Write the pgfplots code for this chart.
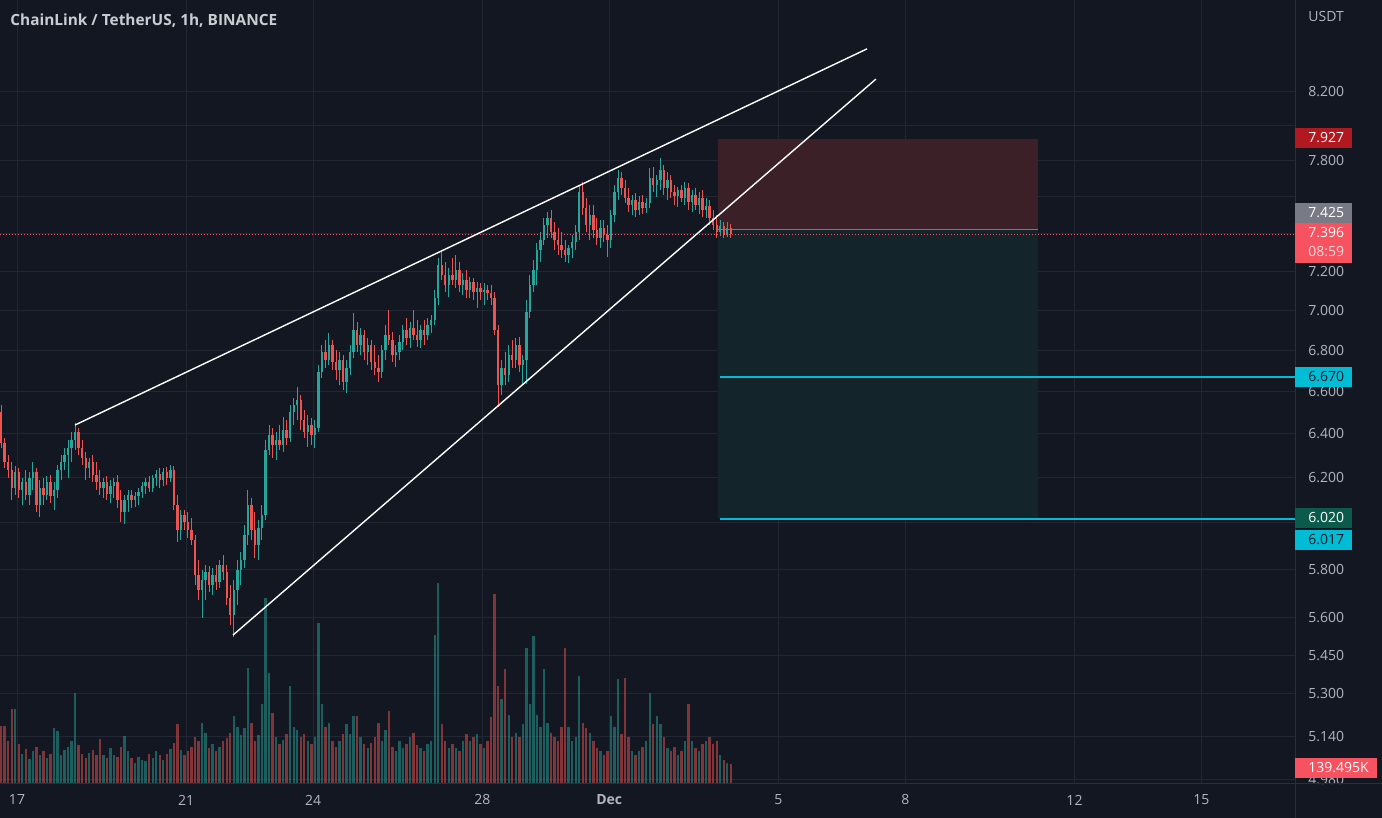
\documentclass[border=0pt]{standalone}
\usepackage{pgfplots}
\usepackage{pgfplotstable}
\pgfplotsset{compat=1.18}
\usepackage{fontspec}
\setmainfont{Open Sans}

\definecolor{bgc}{HTML}{131722}
\definecolor{gridc}{HTML}{232733}
\definecolor{sepc}{HTML}{2A2E39}
\definecolor{upc}{HTML}{26A69A}
\definecolor{dnc}{HTML}{EF5350}
\definecolor{txtc}{HTML}{B2B5BE}
\definecolor{titlec}{HTML}{C9CCD3}
\definecolor{cyanc}{HTML}{00BCD4}
\definecolor{lblred}{HTML}{F7525F}
\definecolor{stopred}{HTML}{B2181F}
\definecolor{tgtgreen}{HTML}{0A5B4B}
\definecolor{stopzone}{HTML}{3B2028}
\definecolor{tgtzone}{HTML}{13252B}
\definecolor{entryc}{HTML}{787B86}

% LINK/USDT, 2h candles: open high low close volume(K)
\pgfplotstableread{
o h l c v
6.503 6.536 6.335 6.358 406
6.358 6.381 6.244 6.271 406
6.271 6.303 6.198 6.235 300
6.235 6.271 6.101 6.154 525
6.154 6.253 6.123 6.226 525
6.226 6.244 6.110 6.145 280
6.145 6.198 6.079 6.181 210
6.181 6.235 6.101 6.123 245
6.123 6.226 6.079 6.198 175
6.198 6.271 6.145 6.226 230
6.226 6.244 6.048 6.079 260
6.079 6.189 6.026 6.154 200
6.154 6.198 6.079 6.123 230
6.123 6.208 6.101 6.181 180
6.181 6.212 6.088 6.119 210
6.119 6.181 6.057 6.145 392
6.145 6.258 6.110 6.235 370
6.235 6.303 6.189 6.271 200
6.271 6.335 6.235 6.303 240
6.303 6.372 6.198 6.335 260
6.335 6.409 6.271 6.372 300
6.372 6.451 6.326 6.409 637
6.409 6.427 6.303 6.335 270
6.335 6.372 6.258 6.290 210
6.290 6.317 6.189 6.244 180
6.244 6.290 6.198 6.271 220
6.271 6.303 6.181 6.212 240
6.212 6.271 6.145 6.181 200
6.181 6.235 6.123 6.154 315
6.154 6.198 6.110 6.181 200
6.181 6.208 6.101 6.128 180
6.128 6.189 6.088 6.163 250
6.163 6.198 6.110 6.181 200
6.181 6.212 6.066 6.101 190
6.101 6.145 6.004 6.048 260
6.048 6.123 5.995 6.101 336
6.101 6.145 6.048 6.123 230
6.123 6.145 6.066 6.101 180
6.101 6.136 6.070 6.119 150
6.119 6.154 6.079 6.136 190
6.136 6.181 6.110 6.163 170
6.163 6.198 6.128 6.181 160
6.181 6.208 6.136 6.154 210
6.154 6.212 6.136 6.198 180
6.198 6.235 6.163 6.217 230
6.217 6.244 6.154 6.189 200
6.189 6.244 6.163 6.226 170
6.226 6.249 6.167 6.198 210
6.198 6.258 6.181 6.235 245
6.235 6.253 6.057 6.079 290
6.079 6.123 5.918 5.970 420
5.970 6.057 5.927 6.035 240
6.035 6.057 5.970 6.004 200
6.004 6.048 5.935 5.970 230
5.970 6.022 5.905 5.927 260
5.927 5.948 5.736 5.778 330
5.778 5.841 5.674 5.716 300
5.716 5.798 5.600 5.757 427
5.757 5.820 5.674 5.790 360
5.790 5.815 5.707 5.736 250
5.736 5.807 5.695 5.778 280
5.778 5.820 5.716 5.749 230
5.749 5.841 5.724 5.820 260
5.820 5.862 5.757 5.790 300
5.790 5.820 5.653 5.682 320
5.682 5.736 5.572 5.612 360
5.612 5.757 5.525 5.716 476
5.716 5.841 5.653 5.798 400
5.798 5.875 5.736 5.841 340
5.841 5.991 5.807 5.948 390
5.948 6.145 5.905 6.079 812
6.079 6.110 5.927 5.970 430
5.970 6.048 5.850 5.905 300
5.905 6.013 5.841 5.978 340
5.978 6.079 5.927 6.035 560
6.035 6.372 6.013 6.326 1302
6.326 6.442 6.303 6.395 777
6.395 6.427 6.290 6.349 500
6.349 6.409 6.281 6.372 330
6.372 6.442 6.326 6.349 280
6.349 6.479 6.317 6.418 310
6.418 6.465 6.349 6.381 350
6.381 6.536 6.363 6.503 686
6.503 6.569 6.442 6.536 400
6.536 6.621 6.465 6.559 380
6.559 6.583 6.418 6.465 330
6.465 6.512 6.381 6.409 350
6.409 6.489 6.340 6.442 300
6.442 6.475 6.349 6.395 280
6.395 6.465 6.335 6.427 330
6.427 6.728 6.409 6.694 1127
6.694 6.826 6.665 6.791 560
6.791 6.851 6.713 6.752 400
6.752 6.886 6.728 6.826 427
6.826 6.851 6.704 6.743 300
6.743 6.801 6.655 6.704 260
6.704 6.791 6.631 6.752 300
6.752 6.777 6.607 6.645 350
6.645 6.752 6.592 6.713 420
6.713 6.826 6.679 6.791 350
6.791 6.986 6.762 6.901 476
6.901 6.941 6.791 6.826 476
6.826 6.911 6.777 6.876 330
6.876 6.901 6.752 6.791 280
6.791 6.861 6.728 6.826 250
6.826 6.851 6.704 6.743 290
6.743 6.826 6.679 6.713 330
6.713 6.777 6.645 6.694 427
6.694 6.826 6.665 6.801 300
6.801 6.926 6.752 6.876 380
6.876 7.001 6.826 6.851 511
6.851 6.891 6.743 6.777 260
6.777 6.826 6.718 6.791 230
6.791 6.876 6.752 6.841 300
6.841 6.926 6.801 6.901 250
6.901 6.961 6.826 6.861 280
6.861 6.941 6.811 6.911 330
6.911 7.001 6.851 6.876 360
6.876 6.951 6.816 6.851 270
6.851 6.926 6.811 6.901 250
6.901 6.951 6.826 6.876 230
6.876 6.961 6.851 6.926 280
6.926 6.976 6.886 6.951 300
6.951 7.104 6.926 7.063 1040
7.063 7.271 7.027 7.234 1407
7.234 7.303 7.156 7.182 420
7.182 7.250 7.094 7.130 300
7.130 7.218 7.068 7.182 250
7.182 7.271 7.130 7.156 280
7.156 7.287 7.115 7.207 250
7.207 7.250 7.094 7.130 230
7.130 7.192 7.079 7.156 300
7.156 7.207 7.063 7.104 350
7.104 7.171 7.063 7.146 300
7.146 7.166 7.053 7.094 330
7.094 7.146 7.011 7.115 350
7.115 7.140 7.053 7.094 280
7.094 7.140 7.027 7.104 250
7.104 7.130 7.053 7.089 300
7.089 7.130 7.027 7.063 470
7.063 7.094 6.876 6.901 1330
6.901 6.926 6.526 6.631 686
6.631 6.752 6.583 6.713 595
6.713 6.791 6.631 6.679 805
6.679 6.826 6.645 6.777 480
6.777 6.851 6.713 6.752 330
6.752 6.861 6.713 6.826 360
6.826 6.866 6.694 6.728 330
6.728 6.777 6.636 6.752 420
6.752 7.053 6.636 6.991 952
6.991 7.182 6.961 7.130 560
7.130 7.260 7.094 7.207 1036
7.207 7.350 7.130 7.313 480
7.313 7.409 7.250 7.366 400
7.366 7.486 7.340 7.447 805
7.447 7.518 7.377 7.486 430
7.486 7.529 7.377 7.409 360
7.409 7.464 7.313 7.366 330
7.366 7.431 7.287 7.340 300
7.340 7.409 7.271 7.313 400
7.313 7.366 7.250 7.287 952
7.287 7.340 7.244 7.324 400
7.324 7.393 7.271 7.356 300
7.356 7.447 7.313 7.409 330
7.409 7.667 7.366 7.628 756
7.628 7.683 7.502 7.540 430
7.540 7.595 7.409 7.447 392
7.447 7.557 7.366 7.502 360
7.502 7.557 7.377 7.420 300
7.420 7.486 7.340 7.377 250
7.377 7.475 7.324 7.431 230
7.431 7.475 7.356 7.393 200
7.393 7.447 7.276 7.366 230
7.366 7.529 7.324 7.502 476
7.502 7.667 7.464 7.628 400
7.628 7.750 7.584 7.706 735
7.706 7.739 7.611 7.650 350
7.650 7.694 7.568 7.595 742
7.595 7.650 7.518 7.557 330
7.557 7.611 7.502 7.584 230
7.584 7.622 7.491 7.529 200
7.529 7.606 7.502 7.573 230
7.573 7.611 7.508 7.540 260
7.540 7.595 7.513 7.568 300
7.568 7.761 7.540 7.706 637
7.706 7.767 7.628 7.667 420
7.667 7.722 7.600 7.694 476
7.694 7.817 7.639 7.750 420
7.750 7.778 7.611 7.650 330
7.650 7.739 7.584 7.694 250
7.694 7.722 7.595 7.628 230
7.628 7.667 7.557 7.606 260
7.606 7.656 7.546 7.639 200
7.639 7.667 7.573 7.595 230
7.595 7.683 7.557 7.650 300
7.650 7.678 7.529 7.573 560
7.573 7.639 7.518 7.611 300
7.611 7.650 7.529 7.557 250
7.557 7.628 7.508 7.595 230
7.595 7.639 7.491 7.529 280
7.529 7.595 7.486 7.551 300
7.551 7.584 7.447 7.486 330
7.486 7.529 7.420 7.447 280
7.447 7.502 7.377 7.409 300
7.409 7.475 7.387 7.442 200
7.442 7.464 7.377 7.393 170
7.393 7.464 7.382 7.431 150
7.431 7.453 7.377 7.396 139.495
}\candles

\begin{document}
\begin{tikzpicture}
\fill[bgc] (0,-17pt) rectangle (691pt,392pt);

% grid and scales
\begin{axis}[
  scale only axis, width=647.5pt, height=392pt,
  at={(0,0)}, anchor=south west,
  xmin=-0.4019, xmax=30.213,
  ymode=log, ymin=4.9651, ymax=8.7655,
  axis line style={draw=none}, tick style={draw=none},
  xmajorgrids, ymajorgrids, major grid style={gridc, line width=0.5pt},
  xtick={0,4,7,11,14,18,21,25,28},
  xticklabels={17,21,24,28,\textbf{Dec},5,8,12,15},
  ytick={4.98,5.14,5.3,5.45,5.6,5.8,6.0,6.2,6.4,6.6,6.8,7.0,7.2,7.4,7.6,7.8,8.0,8.2},
  yticklabels={4.980,5.140,5.300,5.450,5.600,5.800,,6.200,6.400,6.600,6.800,7.000,7.200,,,7.800,,8.200},
  yticklabel pos=right,
  /pgf/number format/assume math mode=true,
  tick label style={font=\fontsize{7}{8}\selectfont, text=txtc},
  xticklabel style={anchor=center, inner sep=0pt, yshift=-8pt},
  yticklabel style={anchor=west, inner sep=0pt, xshift=6.5pt},
]
\end{axis}

% volume
\begin{axis}[
  scale only axis, width=647.5pt, height=392pt,
  at={(0,0)}, anchor=south west,
  xmin=-0.4019, xmax=30.213, ymin=0, ymax=5488, axis lines=none]
\addplot[ycomb, mark=none, line width=1.2pt, upc, opacity=0.5,
  restrict expr to domain={\thisrow{c}-\thisrow{o}}{0:10}]
  table[x expr=-0.375+\coordindex/12, y=v] {\candles};
\addplot[ycomb, mark=none, line width=1.2pt, dnc, opacity=0.5,
  restrict expr to domain={\thisrow{c}-\thisrow{o}}{-10:-0.0001}]
  table[x expr=-0.375+\coordindex/12, y=v] {\candles};
\end{axis}

% candles, position and drawings
\begin{axis}[
  scale only axis, width=647.5pt, height=392pt,
  at={(0,0)}, anchor=south west,
  xmin=-0.4019, xmax=30.213,
  ymode=log, ymin=4.9651, ymax=8.7655, axis lines=none,
  candle/.style={only marks, mark=*, mark size=0pt,
    mark options={draw opacity=0, fill opacity=0}},
]
\addplot[draw=none, fill=stopzone] coordinates
  {(16.572,7.425) (24.137,7.425) (24.137,7.927) (16.572,7.927)} -- cycle;
\addplot[draw=none, fill=tgtzone] coordinates
  {(16.572,6.017) (24.137,6.017) (24.137,7.425) (16.572,7.425)} -- cycle;
\addplot[entryc, line width=0.5pt] coordinates {(16.572,7.425) (24.137,7.425)};

% wicks
\addplot[candle, upc,
  restrict expr to domain={\thisrow{c}-\thisrow{o}}{0:10},
  error bars/.cd, y dir=plus, y explicit, error mark=none,
  error bar style={upc, line width=0.5pt}]
  table[x expr=-0.375+\coordindex/12, y=l, y error expr=\thisrow{h}-\thisrow{l}] {\candles};
\addplot[candle, dnc,
  restrict expr to domain={\thisrow{c}-\thisrow{o}}{-10:-0.0001},
  error bars/.cd, y dir=plus, y explicit, error mark=none,
  error bar style={dnc, line width=0.5pt}]
  table[x expr=-0.375+\coordindex/12, y=l, y error expr=\thisrow{h}-\thisrow{l}] {\candles};
% bodies
\addplot[candle, upc,
  restrict expr to domain={\thisrow{c}-\thisrow{o}}{0:10},
  error bars/.cd, y dir=minus, y explicit, error mark=none,
  error bar style={upc, line width=1.2pt}]
  table[x expr=-0.375+\coordindex/12, y=c, y error expr=\thisrow{c}-\thisrow{o}] {\candles};
\addplot[candle, dnc,
  restrict expr to domain={\thisrow{c}-\thisrow{o}}{-10:-0.0001},
  error bars/.cd, y dir=minus, y explicit, error mark=none,
  error bar style={dnc, line width=1.2pt}]
  table[x expr=-0.375+\coordindex/12, y=o, y error expr=\thisrow{o}-\thisrow{c}] {\candles};

% last price
\addplot[lblred, line width=0.5pt, dash pattern=on 0.5pt off 1pt]
  coordinates {(-0.4019,7.396) (30.213,7.396)};
% horizontal levels
\addplot[cyanc, line width=1pt] coordinates {(16.62,6.670) (30.213,6.670)};
\addplot[cyanc, line width=1pt] coordinates {(16.62,6.017) (30.213,6.017)};
% rising wedge
\addplot[white, line width=0.7pt] coordinates {(1.371,6.441) (20.095,8.460)};
\addplot[white, line width=0.7pt] coordinates {(5.106,5.531) (20.307,8.277)};
\end{axis}

% pane borders
\draw[sepc, line width=0.5pt] (0,0) -- (691pt,0);
\draw[sepc, line width=0.5pt] (647.5pt,-17pt) -- (647.5pt,392pt);

% title and scale labels
\node[anchor=west, inner sep=0pt, text=titlec, font=\bfseries\fontsize{7.7}{9}\selectfont]
  at (5pt,381.5pt) {ChainLink / TetherUS, 1h, BINANCE};
\node[anchor=west, inner sep=0pt, text=txtc, font=\fontsize{7}{8}\selectfont]
  at (654pt,383.5pt) {USDT};

\tikzset{lbl/.style={anchor=west, inner sep=0pt, font=\fontsize{7}{8}\selectfont}}
\fill[stopred] (647.5pt,318pt) rectangle (676pt,328pt);
\node[lbl, text=white] at (654pt,323pt) {7.927};
\fill[entryc] (647.5pt,280.5pt) rectangle (676pt,290.5pt);
\node[lbl, text=white] at (654pt,285.5pt) {7.425};
\fill[lblred] (647.5pt,260.5pt) rectangle (676pt,280.5pt);
\node[lbl, text=white] at (654pt,275.5pt) {7.396};
\node[lbl, text=white!80!lblred] at (654pt,266pt) {08:59};
\fill[cyanc] (647.5pt,198.5pt) rectangle (676pt,208.5pt);
\node[lbl, text=bgc] at (654pt,203.5pt) {6.670};
\fill[tgtgreen] (647.5pt,128pt) rectangle (676pt,138pt);
\node[lbl, text=white] at (654pt,133pt) {6.020};
\fill[cyanc] (647.5pt,117pt) rectangle (676pt,127pt);
\node[lbl, text=bgc] at (654pt,122pt) {6.017};
\fill[lblred] (647.5pt,3pt) rectangle (688.5pt,13pt);
\node[lbl, text=white] at (654pt,8pt) {139.495K};

\pgfresetboundingbox
\path[use as bounding box] (0,-17pt) rectangle (691pt,392pt);
\end{tikzpicture}
\end{document}
